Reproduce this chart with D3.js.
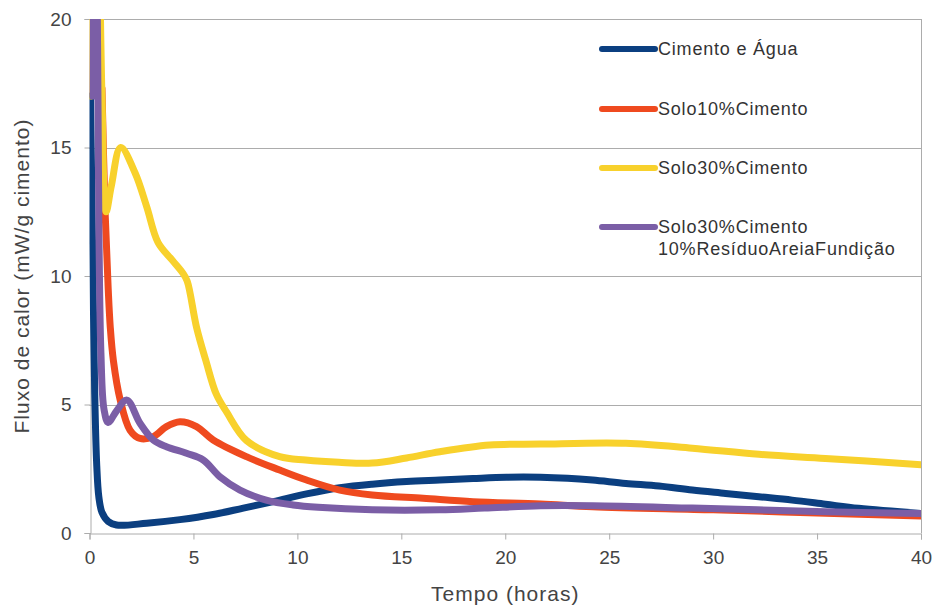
<!DOCTYPE html>
<html>
<head>
<meta charset="utf-8">
<script src="https://cdn.jsdelivr.net/npm/d3@7"></script>
<style>
  html, body { margin: 0; padding: 0; background: #ffffff; }
  svg { display: block; }
  .tick-label { font-family: "Liberation Sans", Arial, sans-serif; font-size: 19px; fill: #444; }
  .legend-label { font-family: "Liberation Sans", Arial, sans-serif; font-size: 18px; fill: #333; letter-spacing: 0.8px; }
  .axis-title { font-family: "Liberation Sans", Arial, sans-serif; font-size: 21px; fill: #444; letter-spacing: 1px; }
</style>
</head>
<body>
<svg id="chart" width="935" height="612"></svg>
<script>
// Heat flow of cement pastes and soil-cement mixes over the first 40 hours
const xTicks = [0, 5, 10, 15, 20, 25, 30, 35, 40];
const yTicks = [0, 5, 10, 15, 20];

const seriesNames = ["Cimento e Água", "Solo10%Cimento", "Solo30%Cimento", "Solo30%Cimento\n10%ResíduoAreiaFundição"];
const seriesColors = ["#0b3f80", "#ef4a1f", "#f8d12c", "#7b5ea6"];

const tempoCimento = [0.05, 0.15, 0.25, 0.35, 0.45, 0.6, 0.9, 1.3, 2.75, 4.35, 5.95, 7.4, 8.84, 10.44, 12.04, 13.6, 15.25, 16.85, 18.45, 20.06, 21.7, 23, 24.2, 25.8, 27.4, 29, 30.6, 32.2, 33.8, 35.4, 37, 40];
const fluxoCimento = [17, 11, 5.5, 2.6, 1.4, 0.8, 0.45, 0.31, 0.38, 0.52, 0.72, 0.97, 1.22, 1.52, 1.76, 1.9, 2.0, 2.06, 2.12, 2.17, 2.17, 2.13, 2.06, 1.93, 1.83, 1.67, 1.54, 1.41, 1.28, 1.12, 0.96, 0.76];

const tempoSolo10 = [0.6, 0.75, 0.9, 1.0, 1.15, 1.47, 1.95, 2.43, 3.07, 3.7, 4.35, 5.15, 5.95, 7.55, 9.15, 10.44, 12.04, 13.6, 16.05, 18.45, 21.7, 24.2, 30, 35, 40];
const fluxoSolo10 = [17.3, 12.5, 9.5, 8.0, 6.7, 5.2, 4.0, 3.68, 3.75, 4.14, 4.33, 4.14, 3.62, 2.97, 2.45, 2.06, 1.67, 1.48, 1.35, 1.22, 1.13, 1.02, 0.9, 0.78, 0.66];

const tempoSolo30 = [0.05, 0.3, 0.6, 0.8, 1.05, 1.5, 2.2, 2.75, 3.3, 4.0, 4.5, 4.7, 5.15, 5.6, 6.1, 6.6, 7.55, 9.15, 10.4, 12, 13.6, 15.25, 16.85, 19.25, 21.7, 25.8, 29, 32.2, 35.4, 40];
const fluxoSolo30 = [17, 30, 17, 12.5, 13.5, 15.0, 14.0, 12.7, 11.3, 10.6, 10.1, 9.8, 8.0, 6.7, 5.4, 4.7, 3.6, 2.97, 2.84, 2.75, 2.72, 2.92, 3.16, 3.42, 3.46, 3.49, 3.3, 3.06, 2.9, 2.66];

const tempoResiduo = [0.15, 0.3, 0.45, 0.55, 0.7, 0.9, 1.3, 1.8, 2.43, 3.07, 3.7, 4.67, 5.47, 6.27, 7.24, 8.5, 9.8, 11, 13.6, 16.85, 19, 21.7, 24.2, 29, 35.4, 40];
const fluxoResiduo = [17, 27, 12, 7, 4.8, 4.3, 4.75, 5.17, 4.27, 3.62, 3.36, 3.1, 2.84, 2.19, 1.67, 1.28, 1.09, 1.0, 0.9, 0.9, 0.97, 1.06, 1.06, 0.97, 0.83, 0.76];

const tempos = [tempoCimento, tempoSolo10, tempoSolo30, tempoResiduo];
const fluxos = [fluxoCimento, fluxoSolo10, fluxoSolo30, fluxoResiduo];

const series = seriesNames.map((name, i) => ({
  name,
  color: seriesColors[i],
  points: tempos[i].map((t, j) => ({ t, v: fluxos[i][j] }))
}));

const svg = d3.select("#chart");
const plot = { left: 89.5, right: 921, top: 19, bottom: 533 };

const x = d3.scaleLinear().domain([0, 40]).range([plot.left, plot.right]);
const y = d3.scaleLinear().domain([0, 20]).range([plot.bottom, plot.top]);

const gridColor = "#acacac";

// horizontal gridlines
svg.append("g")
  .selectAll("line")
  .data(yTicks.filter(d => d > 0))
  .join("line")
  .attr("x1", plot.left).attr("x2", plot.right)
  .attr("y1", d => Math.round(y(d)) + 0.5).attr("y2", d => Math.round(y(d)) + 0.5)
  .attr("stroke", gridColor).attr("stroke-width", 1);

// right frame line
svg.append("line")
  .attr("x1", Math.round(plot.right) + 0.5).attr("x2", Math.round(plot.right) + 0.5)
  .attr("y1", plot.top).attr("y2", plot.bottom)
  .attr("stroke", gridColor);

// y axis
const yAxis = d3.axisLeft(y).tickValues(yTicks).tickSize(6).tickPadding(13).tickFormat(d3.format("d"));
const gy = svg.append("g")
  .attr("transform", `translate(${Math.round(plot.left) + 0.5},0)`)
  .call(yAxis);
gy.select(".domain").attr("stroke", gridColor);
gy.selectAll(".tick line").attr("stroke", gridColor);
gy.selectAll(".tick text").attr("class", "tick-label").attr("font-family", null).attr("font-size", null);

// x axis
const xAxis = d3.axisBottom(x).tickValues(xTicks).tickSize(6).tickPadding(11).tickFormat(d3.format("d"));
const gx = svg.append("g")
  .attr("transform", `translate(0,${Math.round(plot.bottom) + 0.5})`)
  .call(xAxis);
gx.select(".domain").attr("stroke", gridColor);
gx.selectAll(".tick line").attr("stroke", gridColor);
gx.selectAll(".tick text").attr("class", "tick-label").attr("font-family", null).attr("font-size", null);

// clip lines to the plotting area
svg.append("defs").append("clipPath").attr("id", "plot-clip")
  .append("rect")
  .attr("x", plot.left).attr("y", plot.top)
  .attr("width", plot.right - plot.left).attr("height", plot.bottom - plot.top);

const line = d3.line()
  .x(d => x(d.t))
  .y(d => y(d.v))
  .curve(d3.curveCatmullRom.alpha(0.5));

svg.append("g")
  .attr("clip-path", "url(#plot-clip)")
  .selectAll("path")
  .data(series)
  .join("path")
  .attr("d", d => line(d.points))
  .attr("fill", "none")
  .attr("stroke", d => d.color)
  .attr("stroke-width", 7)
  .attr("stroke-linejoin", "round")
  .attr("stroke-linecap", "round");

// legend
const legendRows = [49, 109, 168, 227];
const legend = svg.append("g");
series.forEach((s, i) => {
  const g = legend.append("g").attr("transform", `translate(0,${legendRows[i]})`);
  g.append("line")
    .attr("x1", 602).attr("x2", 655)
    .attr("stroke", s.color).attr("stroke-width", 6).attr("stroke-linecap", "round");
  const txt = g.append("text").attr("class", "legend-label");
  s.name.split("\n").forEach((part, k) => {
    txt.append("tspan").attr("x", 658).attr("dy", k === 0 ? "0.35em" : "22px").text(part);
  });
});

// axis titles
svg.append("text")
  .attr("class", "axis-title")
  .attr("x", (plot.left + plot.right) / 2)
  .attr("y", 601)
  .attr("text-anchor", "middle")
  .text("Tempo (horas)");

svg.append("text")
  .attr("class", "axis-title")
  .attr("transform", `translate(29,${(plot.top + plot.bottom) / 2}) rotate(-90)`)
  .attr("text-anchor", "middle")
  .text("Fluxo de calor (mW/g cimento)");
</script>
</body>
</html>
